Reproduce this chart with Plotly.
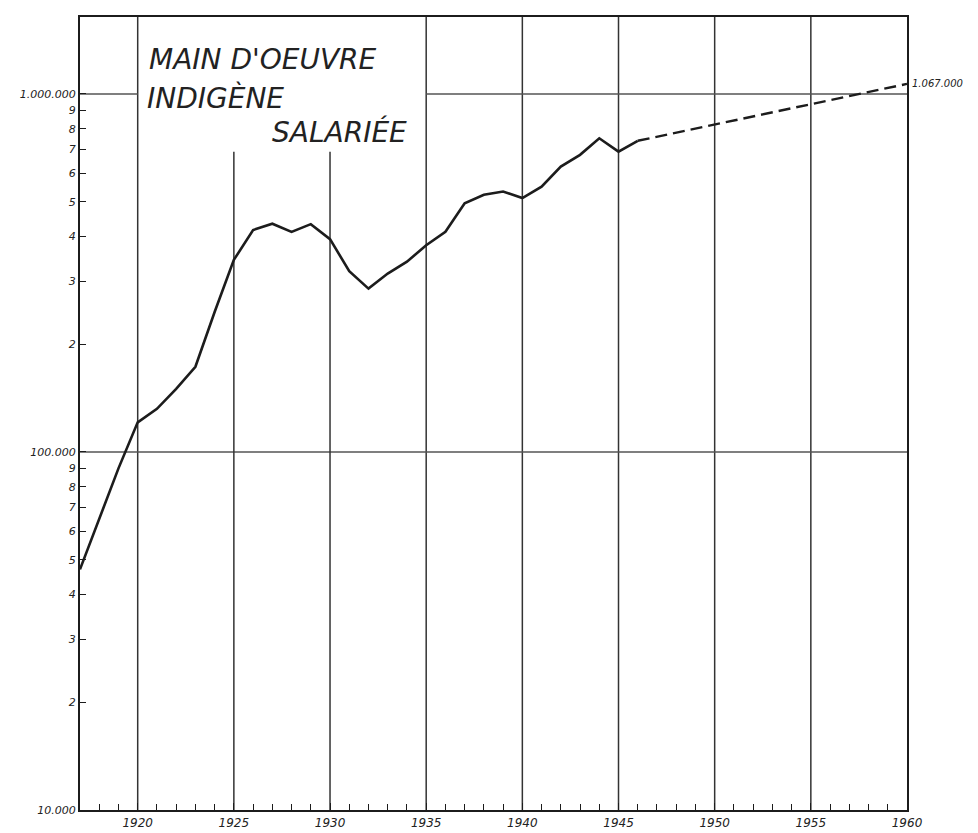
import numpy as np
import plotly.graph_objects as go

# ---- data ----
years_obs = [1917, 1918, 1919, 1920, 1921, 1922, 1923, 1924, 1925, 1926,
             1927, 1928, 1929, 1930, 1931, 1932, 1933, 1934, 1935, 1936,
             1937, 1938, 1939, 1940, 1941, 1942, 1943, 1944, 1945, 1946]
workers_obs = [47000, 65000, 90000, 121000, 132000, 150000, 173000, 246000, 344000, 417000,
               434000, 412000, 433000, 393000, 320000, 286000, 315000, 340000, 378000, 412000,
               495000, 523000, 534000, 512000, 551000, 627000, 676000, 752000, 690000, 740000]
years_proj = [1946, 1960]
workers_proj = [740000, 1067000]
end_label = "1.067.000"

title_lines = ["MAIN D'OEUVRE", "INDIGÈNE", "SALARIÉE"]

x_major = [1920, 1925, 1930, 1935, 1940, 1945, 1950, 1955, 1960]
x_major_text = ["1920", "1925", "1930", "1935", "1940", "1945", "1950", "1955", "1960"]

y_ticks = [10000] + [k * 10000 for k in range(2, 10)] + [100000] + [k * 100000 for k in range(2, 10)] + [1000000]
y_text = ["10.000"] + [str(k) for k in range(2, 10)] + ["100.000"] + [str(k) for k in range(2, 10)] + ["1.000.000"]

# grid lines
full_vgrid = [1920, 1935, 1940, 1945, 1950, 1955]
partial_vgrid = [1925, 1930]
partial_top = 690000
hgrid_full = [100000]
hgrid_1m_segments = [(1917, 1920), (1935, 1960)]

X_RANGE = [1917, 1960]
Y_RANGE = [4, 6.215]

INK = "#1c1c1c"
GRID = "#555555"

fig = go.Figure()
fig.add_trace(go.Scatter(x=years_obs, y=workers_obs, mode="lines",
                         line=dict(color=INK, width=2.6), hoverinfo="skip", showlegend=False))
fig.add_trace(go.Scatter(x=years_proj, y=workers_proj, mode="lines",
                         line=dict(color=INK, width=2.4, dash="12px,6px"), hoverinfo="skip", showlegend=False))

shapes = []
for yr in full_vgrid:
    shapes.append(dict(type="line", xref="x", yref="paper", x0=yr, x1=yr, y0=0, y1=1,
                       line=dict(color="#333333", width=1.5), layer="below"))
for yr in partial_vgrid:
    shapes.append(dict(type="line", xref="x", yref="y", x0=yr, x1=yr, y0=10000, y1=partial_top,
                       line=dict(color="#333333", width=1.5), layer="below"))
for v in hgrid_full:
    shapes.append(dict(type="line", xref="paper", yref="y", x0=0, x1=1, y0=v, y1=v,
                       line=dict(color=GRID, width=1.5), layer="below"))
for a, b in hgrid_1m_segments:
    shapes.append(dict(type="line", xref="x", yref="y", x0=a, x1=b, y0=1000000, y1=1000000,
                       line=dict(color=GRID, width=1.5), layer="below"))

annotations = []
title_pos = [(0.081, 0.9458), (0.0786, 0.8979), (0.2297, 0.855)]
for txt, (px, py) in zip(title_lines, title_pos):
    annotations.append(dict(text=txt, xref="paper", yref="paper", x=px, y=py,
                            xanchor="left", yanchor="middle", showarrow=False,
                            font=dict(family="DejaVu Sans", size=28, color="#222222", style="italic")))
annotations.append(dict(text=end_label, xref="paper", yref="y", x=1.004, y=np.log10(workers_proj[-1]),
                        xanchor="left", yanchor="middle", showarrow=False,
                        font=dict(family="DejaVu Sans", size=10, color="#222222", style="italic")))

fig.update_layout(
    width=978, height=833,
    margin=dict(l=80, r=71, t=17, b=23, autoexpand=False),
    paper_bgcolor="white", plot_bgcolor="white",
    shapes=shapes, annotations=annotations,
    showlegend=False,
)
fig.update_xaxes(
    range=X_RANGE, showgrid=False, zeroline=False, automargin=False,
    tickmode="array", tickvals=x_major, ticktext=x_major_text,
    ticks="inside", ticklen=7, tickcolor=INK, tickwidth=1.2,
    minor=dict(tickmode="linear", tick0=1917, dtick=1, ticks="inside", ticklen=6, tickcolor=INK, tickwidth=1.2, showgrid=False),
    showline=True, linecolor=INK, linewidth=2.2, mirror=True,
    tickfont=dict(family="DejaVu Sans", size=12, color="#222222", style="italic"),
)
fig.update_yaxes(
    type="log", range=Y_RANGE, showgrid=False, zeroline=False, automargin=False,
    tickmode="array", tickvals=y_ticks, ticktext=y_text,
    ticks="inside", ticklen=6, tickcolor=INK, tickwidth=1.2,
    showline=True, linecolor=INK, linewidth=2.2, mirror=True,
    tickfont=dict(family="DejaVu Sans", size=11, color="#222222", style="italic"),
)

fig.write_html("out.html", config={"displayModeBar": False},
               post_script="document.body.style.margin='0px';")
